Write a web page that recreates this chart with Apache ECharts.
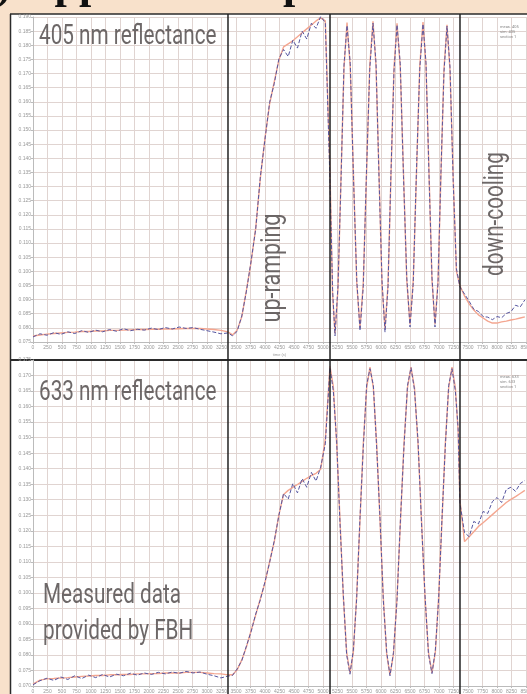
<!DOCTYPE html>
<html>
<head>
<meta charset="utf-8">
<script src="https://cdn.jsdelivr.net/npm/echarts@6/dist/echarts.min.js"></script>
<style>
html, body { margin: 0; padding: 0; background: #f8e1cb; }
#main { width: 527px; height: 694px; }
</style>
</head>
<body>
<div id="main"></div>
<script>
// time axis, shared parts (flat start + up-ramping, down-cooling)
var timeFlat = [0, 120, 240, 360, 480, 600, 720, 840, 960, 1080, 1200, 1320, 1440, 1560, 1680, 1800, 1920, 2040, 2160, 2280, 2400, 2520, 2640, 2760, 2880, 3000, 3120, 3240, 3360,
    3440, 3520, 3600, 3680, 3760, 3840, 3920, 4000, 4080, 4160, 4240, 4320, 4400, 4480, 4560, 4640, 4720, 4800, 4880, 4960, 5040, 5120];
var timeCool = [7440, 7520, 7600, 7680, 7760, 7840, 7920, 8000, 8080, 8160, 8240, 8320, 8400, 8480];
// oscillation part, own time points per wavelength
var timeOsc405 = [5165, 5207, 5259, 5310, 5362, 5414, 5470, 5526, 5582, 5638, 5694, 5750, 5806, 5862, 5914, 5966, 6017, 6069, 6121, 6172, 6224,
    6276, 6332, 6388, 6444, 6500, 6556, 6612, 6668, 6724, 6776, 6828, 6879, 6931, 6983, 7034, 7086, 7138, 7190, 7245, 7300, 7360];
var timeOsc633 = [5178, 5235, 5293, 5350, 5408, 5465, 5523, 5580, 5638, 5695, 5753, 5810, 5868, 5925, 5983, 6040, 6098, 6155, 6215, 6276,
    6336, 6396, 6457, 6517, 6577, 6638, 6698, 6758, 6819, 6879, 6937, 6994, 7052, 7109, 7167, 7224, 7282, 7330, 7360];

// 405 nm
var meas405 = [0.0768, 0.0779, 0.0774, 0.0783, 0.0777, 0.0786, 0.0780, 0.0790, 0.0784, 0.0792, 0.0786, 0.0794, 0.0788, 0.0797, 0.0790, 0.0795, 0.0792, 0.0799, 0.0794, 0.0801, 0.0796, 0.0803, 0.0798, 0.0801, 0.0795, 0.0790, 0.0785, 0.0779, 0.0782,
    0.0772, 0.0788, 0.0842, 0.0930, 0.1036, 0.1150, 0.1335, 0.1468, 0.1598, 0.1665, 0.1752, 0.1785, 0.1760, 0.1818, 0.1790, 0.1850, 0.1822, 0.1878, 0.1860, 0.1902, 0.1880, 0.1320,
    0.0935, 0.0772, 0.0950, 0.1318, 0.1730, 0.1870, 0.1735, 0.1328, 0.0970, 0.0790, 0.0945, 0.1355, 0.1715, 0.1878, 0.1738, 0.1330, 0.0968, 0.0785, 0.0945, 0.1350, 0.1708,
    0.1872, 0.1735, 0.1335, 0.0980, 0.0803, 0.0958, 0.1360, 0.1715, 0.1875, 0.1738, 0.1338, 0.0980, 0.0803, 0.0958, 0.1355, 0.1705, 0.1868, 0.1722, 0.1318, 0.1010, 0.0945,
    0.0920, 0.0894, 0.0866, 0.0858, 0.0840, 0.0838, 0.0829, 0.0840, 0.0836, 0.0851, 0.0857, 0.0880, 0.0874, 0.0899];
var sim405 = [0.0771, 0.0775, 0.0778, 0.0780, 0.0782, 0.0784, 0.0785, 0.0787, 0.0787, 0.0789, 0.0789, 0.0791, 0.0791, 0.0792, 0.0793, 0.0794, 0.0794, 0.0795, 0.0795, 0.0796, 0.0796, 0.0797, 0.0798, 0.0798, 0.0798, 0.0796, 0.0794, 0.0791, 0.0786,
    0.0775, 0.0792, 0.0839, 0.0934, 0.1033, 0.1154, 0.1331, 0.1472, 0.1593, 0.1671, 0.1748, 0.1794, 0.1805, 0.1816, 0.1830, 0.1844, 0.1858, 0.1872, 0.1886, 0.1897, 0.1886, 0.1359,
    0.0920, 0.0780, 0.0941, 0.1330, 0.1719, 0.1880, 0.1722, 0.1340, 0.0958, 0.0800, 0.0958, 0.1343, 0.1727, 0.1885, 0.1726, 0.1341, 0.0956, 0.0797, 0.0955, 0.1338, 0.1720,
    0.1878, 0.1722, 0.1346, 0.0969, 0.0813, 0.0969, 0.1348, 0.1726, 0.1882, 0.1726, 0.1348, 0.0969, 0.0813, 0.0968, 0.1343, 0.1717, 0.1872, 0.1710, 0.1330, 0.1000, 0.0950,
    0.0913, 0.0885, 0.0863, 0.0846, 0.0835, 0.0824, 0.0817, 0.0817, 0.0821, 0.0824, 0.0828, 0.0831, 0.0835, 0.0839];

// 633 nm
var meas633 = [0.0704, 0.0717, 0.0725, 0.0718, 0.0729, 0.0721, 0.0733, 0.0724, 0.0735, 0.0727, 0.0737, 0.0729, 0.0738, 0.0733, 0.0741, 0.0735, 0.0742, 0.0737, 0.0744, 0.0739, 0.0745, 0.0741, 0.0747, 0.0742, 0.0745, 0.0738, 0.0733, 0.0726, 0.0732,
    0.0734, 0.0755, 0.0782, 0.0829, 0.0875, 0.0932, 0.0978, 0.1036, 0.1098, 0.1168, 0.1250, 0.1320, 0.1302, 0.1352, 0.1322, 0.1368, 0.1340, 0.1388, 0.1360, 0.1405, 0.1480, 0.1725,
    0.1650, 0.1490, 0.1225, 0.0995, 0.0800, 0.0738, 0.0815, 0.0980, 0.1243, 0.1470, 0.1670, 0.1722, 0.1668, 0.1470, 0.1240, 0.0975, 0.0810, 0.0733, 0.0808, 0.0975,
    0.1240, 0.1470, 0.1668, 0.1725, 0.1655, 0.1490, 0.1228, 0.0995, 0.0802, 0.0740, 0.0815, 0.0980, 0.1242, 0.1472, 0.1668, 0.1722, 0.1650, 0.1530, 0.1290,
    0.1194, 0.1181, 0.1230, 0.1222, 0.1262, 0.1256, 0.1294, 0.1307, 0.1291, 0.1333, 0.1340, 0.1327, 0.1352, 0.1362];
var sim633 = [0.0706, 0.0719, 0.0723, 0.0724, 0.0726, 0.0727, 0.0729, 0.0731, 0.0732, 0.0734, 0.0734, 0.0736, 0.0736, 0.0737, 0.0737, 0.0739, 0.0739, 0.0740, 0.0740, 0.0742, 0.0742, 0.0742, 0.0744, 0.0744, 0.0744, 0.0742, 0.0740, 0.0739, 0.0736,
    0.0736, 0.0752, 0.0784, 0.0826, 0.0878, 0.0929, 0.0981, 0.1033, 0.1101, 0.1165, 0.1252, 0.1317, 0.1330, 0.1340, 0.1349, 0.1359, 0.1369, 0.1378, 0.1385, 0.1398, 0.1495, 0.1730,
    0.1664, 0.1483, 0.1236, 0.0989, 0.0808, 0.0742, 0.0808, 0.0988, 0.1235, 0.1481, 0.1661, 0.1727, 0.1661, 0.1479, 0.1232, 0.0984, 0.0802, 0.0736, 0.0802, 0.0984,
    0.1232, 0.1479, 0.1661, 0.1727, 0.1661, 0.1481, 0.1235, 0.0988, 0.0808, 0.0742, 0.0808, 0.0988, 0.1235, 0.1481, 0.1661, 0.1727, 0.1661, 0.1520, 0.1300,
    0.1165, 0.1181, 0.1197, 0.1214, 0.1226, 0.1239, 0.1252, 0.1265, 0.1278, 0.1291, 0.1301, 0.1310, 0.1320, 0.1330];

// phase boundaries (time)
var phaseEdges = [3362, 5121, 7362];

var time405 = timeFlat.concat(timeOsc405, timeCool);
var time633 = timeFlat.concat(timeOsc633, timeCool);

function pairs(t, v) {
    return t.map(function (x, i) { return [x, v[i]]; });
}

var gridColor = '#e0d4d1';
var textGrey = '#5d5858';

function make_x(gridIndex) {
    return {
        type: 'value', gridIndex: gridIndex, min: 0, max: 8500, interval: 250,
        name: gridIndex === 0 ? 'time (s)' : '',
        nameLocation: 'middle', nameGap: 11,
        nameTextStyle: {fontSize: 4, color: '#999'},
        axisLine: {lineStyle: {color: '#bbb', width: 1}},
        axisTick: {length: 2, lineStyle: {color: '#bbb'}},
        axisLabel: {fontSize: 5, color: '#999', margin: 3, interval: 0,
            formatter: function (v) { return String(v); }},
        splitLine: {show: true, lineStyle: {color: gridColor, width: 1}}
    };
}
function make_y(gridIndex, min, max) {
    return {
        type: 'value', gridIndex: gridIndex, min: min, max: max, interval: 0.005,
        axisLine: {show: true, lineStyle: {color: '#bbb', width: 1}},
        axisTick: {show: true, length: 2, lineStyle: {color: '#bbb'}},
        axisLabel: {fontSize: 5, color: '#999', margin: 2,
            formatter: function (v) { return v.toFixed(3); }},
        splitLine: {show: true, lineStyle: {color: gridColor, width: 1}}
    };
}
function make_line(name, t, v, idx, color, width, dash, z) {
    return {
        name: name, type: 'line', xAxisIndex: idx, yAxisIndex: idx,
        data: pairs(t, v), showSymbol: false, symbol: 'none', z: z,
        lineStyle: {color: color, width: width, type: dash}
    };
}

var myChart = echarts.init(document.getElementById('main'));

option = {
    animation: false,
    backgroundColor: '#ffffff',
    grid: [
        {left: 33, right: 1, top: 17, bottom: 352, outerBoundsMode: 'none', containLabel: false},
        {left: 33, right: 1, top: 360, bottom: 8, outerBoundsMode: 'none', containLabel: false}
    ],
    xAxis: [make_x(0), make_x(1)],
    yAxis: [make_y(0, 0.075, 0.190), make_y(1, 0.070, 0.175)],
    series: [
        make_line('sim 405', time405, sim405, 0, '#f4a690', 1.4, 'solid', 2),
        make_line('meas 405', time405, meas405, 0, '#55559f', 1, [4, 2], 3),
        make_line('sim 633', time633, sim633, 1, '#f4a690', 1.4, 'solid', 2),
        make_line('meas 633', time633, meas633, 1, '#55559f', 1, [4, 2], 3)
    ]
};
myChart.setOption(option);

// frame, dividers and labels
var graphics = [
    {type: 'rect', shape: {x: 0, y: 0, width: 527, height: 14}, style: {fill: '#f8e1cb'}},
    {type: 'rect', shape: {x: 0, y: 0, width: 10, height: 694}, style: {fill: '#f8e1cb'}},
    {type: 'text', x: -3, y: 9, style: {text: ') Applied example', font: 'bold 44px "Liberation Serif"', fill: '#111', verticalAlign: 'bottom'}},
    {type: 'line', shape: {x1: 10, y1: 14, x2: 527, y2: 14}, style: {stroke: '#2b2b2b', lineWidth: 1.5}},
    {type: 'line', shape: {x1: 10.5, y1: 14, x2: 10.5, y2: 694}, style: {stroke: '#2b2b2b', lineWidth: 1.5}},
    {type: 'line', shape: {x1: 10, y1: 360, x2: 527, y2: 360}, style: {stroke: '#2b2b2b', lineWidth: 2}}
];
phaseEdges.forEach(function (d) {
    var px = myChart.convertToPixel({xAxisIndex: 0}, d);
    graphics.push({type: 'line', z: 10, shape: {x1: px, y1: 14, x2: px, y2: 694}, style: {stroke: '#222', lineWidth: 1.5}});
});

function big_text(str, x, y, sx, rot) {
    return {
        type: 'text', x: x, y: y, scaleX: sx, rotation: rot || 0, z: 20,
        style: {text: str, font: '28px Roboto', fill: textGrey, opacity: 0.9,
            align: rot ? 'center' : 'left', verticalAlign: 'middle'}
    };
}
graphics.push(big_text('405 nm reflectance', 39, 37, 0.74));
graphics.push(big_text('633 nm reflectance', 39, 393, 0.74));
graphics.push(big_text('Measured data', 43, 596, 0.74));
graphics.push(big_text('provided by FBH', 43, 632, 0.74));
graphics.push(big_text('up-ramping', 273, 268, 0.77, Math.PI / 2));
graphics.push(big_text('down-cooling', 496, 214, 0.74, Math.PI / 2));

// tiny legend blocks
[[24, '405'], [374, '633']].forEach(function (l) {
    graphics.push({
        type: 'text', x: 500, y: l[0], z: 20,
        style: {text: 'meas. ' + l[1] + '\nsim. ' + l[1] + '\nsection 1', font: '4px Roboto', fill: '#888', lineHeight: 5}
    });
});

myChart.setOption({graphic: graphics});
</script>
</body>
</html>
